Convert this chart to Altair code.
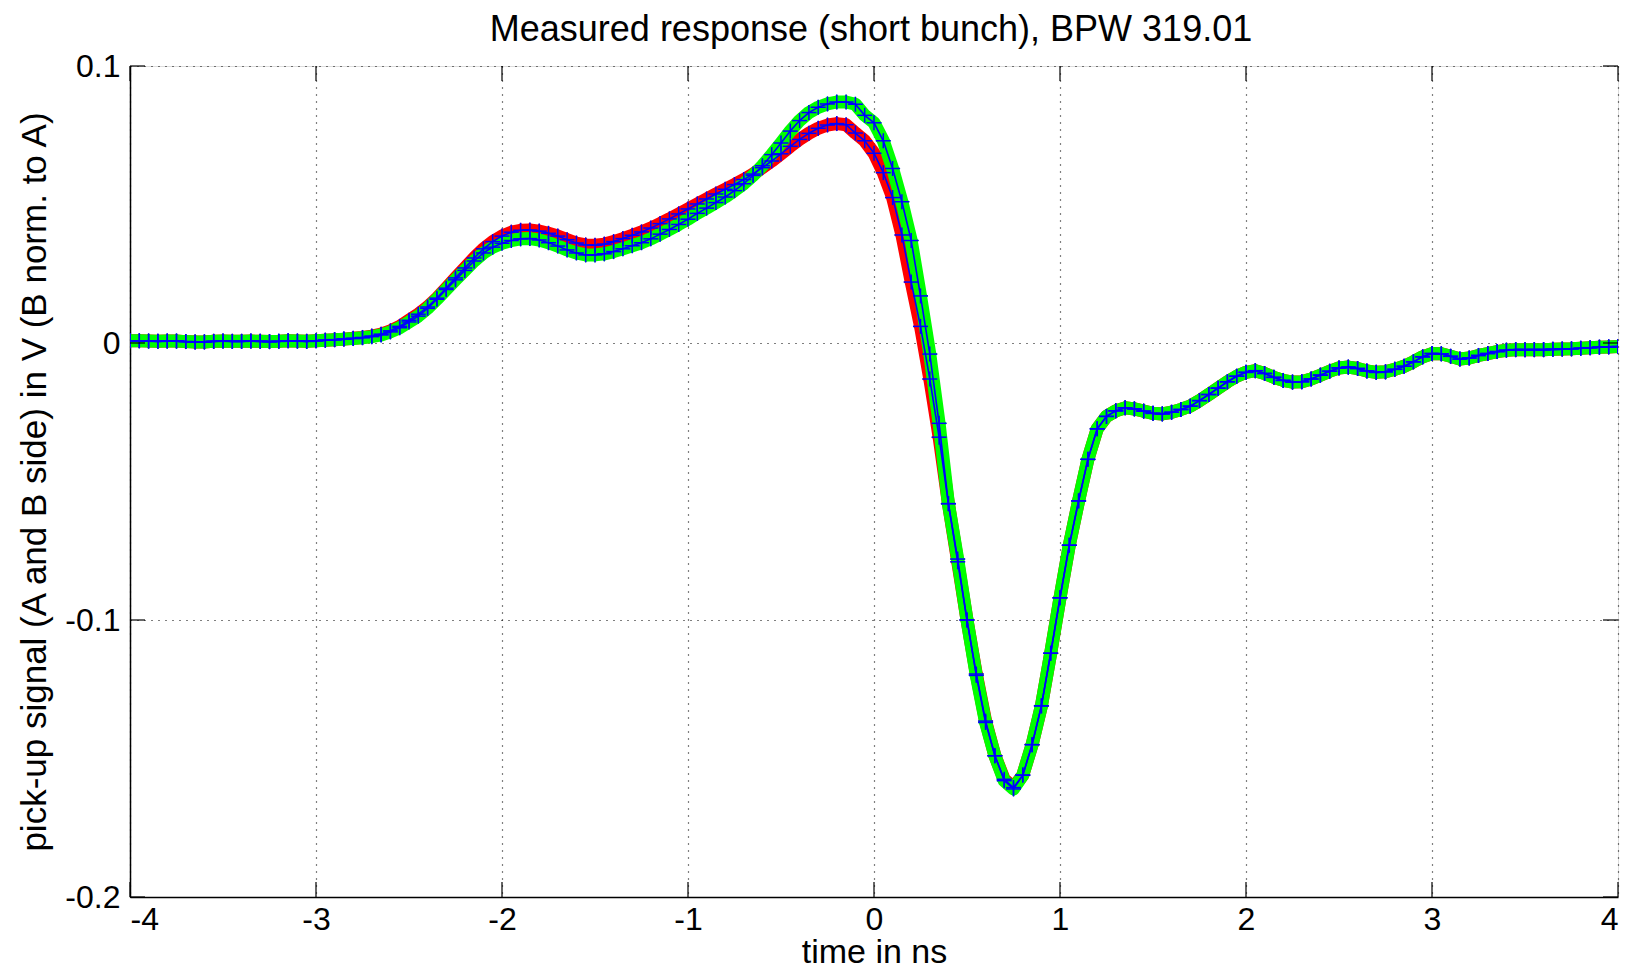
import altair as alt
import numpy as np
import pandas as pd

# time grid in ns (sampling of the traces)
t = np.round(np.arange(-4, 4.0001, 0.05), 2).tolist()

# mean response, A side (red data)
side_a = [
    0.0008, 0.0008, 0.0007, 0.0006, 0.0007, 0.0007, 0.0005, 0.0004, 0.0004, 0.0006,
    0.0007, 0.0006, 0.0006, 0.0007, 0.0006, 0.0005, 0.0006, 0.0008, 0.0007, 0.0006,
    0.0008, 0.0010, 0.0012, 0.0014, 0.0017, 0.0020, 0.0025, 0.0032, 0.0044, 0.0060,
    0.0082, 0.0104, 0.0130, 0.0162, 0.0198, 0.0235, 0.0271, 0.0307, 0.0340, 0.0366,
    0.0386, 0.0400, 0.0407, 0.0408, 0.0404, 0.0396, 0.0386, 0.0373, 0.0361, 0.0354,
    0.0353, 0.0357, 0.0366, 0.0377, 0.0389, 0.0401, 0.0415, 0.0431, 0.0448, 0.0466,
    0.0484, 0.0502, 0.0520, 0.0538, 0.0555, 0.0572, 0.0590, 0.0610, 0.0633, 0.0657,
    0.0683, 0.0710, 0.0735, 0.0757, 0.0775, 0.0787, 0.0792, 0.0788, 0.0758, 0.0730,
    0.0685, 0.0615, 0.0525, 0.0390, 0.0220, 0.0060, -0.0130, -0.0340, -0.0580, -0.0790,
    -0.1000, -0.1195, -0.1365, -0.1490, -0.1575, -0.1605, -0.1560, -0.1450, -0.1310, -0.1120,
    -0.0920, -0.0730, -0.0570, -0.0420, -0.0310, -0.0265, -0.0245, -0.0234, -0.0238, -0.0246,
    -0.0254, -0.0256, -0.0250, -0.0240, -0.0228, -0.0208, -0.0186, -0.0163, -0.0140, -0.0120,
    -0.0106, -0.0100, -0.0110, -0.0124, -0.0135, -0.0141, -0.0140, -0.0130, -0.0116, -0.0102,
    -0.0090, -0.0087, -0.0092, -0.0101, -0.0106, -0.0104, -0.0095, -0.0084, -0.0068, -0.0050,
    -0.0038, -0.0039, -0.0048, -0.0058, -0.0054, -0.0045, -0.0038, -0.0031, -0.0026, -0.0024,
    -0.0024, -0.0024, -0.0024, -0.0023, -0.0022, -0.0021, -0.0019, -0.0017, -0.0015, -0.0014,
    -0.0013,
]

# mean response, B side normalised to A (green data)
side_b = [
    0.0008, 0.0008, 0.0007, 0.0006, 0.0007, 0.0007, 0.0005, 0.0004, 0.0004, 0.0006,
    0.0007, 0.0006, 0.0006, 0.0007, 0.0006, 0.0005, 0.0006, 0.0008, 0.0007, 0.0006,
    0.0008, 0.0010, 0.0012, 0.0014, 0.0016, 0.0019, 0.0023, 0.0029, 0.0040, 0.0055,
    0.0076, 0.0097, 0.0125, 0.0158, 0.0193, 0.0228, 0.0262, 0.0296, 0.0325, 0.0346,
    0.0360, 0.0370, 0.0376, 0.0377, 0.0372, 0.0362, 0.0350, 0.0336, 0.0325, 0.0318,
    0.0318, 0.0322, 0.0330, 0.0340, 0.0351, 0.0362, 0.0376, 0.0393, 0.0410, 0.0428,
    0.0447, 0.0468, 0.0487, 0.0507, 0.0527, 0.0550, 0.0575, 0.0605, 0.0640, 0.0680,
    0.0722, 0.0765, 0.0803, 0.0832, 0.0851, 0.0863, 0.0870, 0.0870, 0.0862, 0.0822,
    0.0795, 0.0730, 0.0630, 0.0510, 0.0370, 0.0170, -0.0040, -0.0290, -0.0580, -0.0780,
    -0.1000, -0.1200, -0.1370, -0.1490, -0.1580, -0.1610, -0.1560, -0.1450, -0.1310, -0.1120,
    -0.0920, -0.0730, -0.0570, -0.0420, -0.0310, -0.0265, -0.0245, -0.0234, -0.0238, -0.0246,
    -0.0254, -0.0256, -0.0250, -0.0240, -0.0228, -0.0208, -0.0186, -0.0163, -0.0140, -0.0120,
    -0.0106, -0.0100, -0.0110, -0.0124, -0.0135, -0.0141, -0.0140, -0.0130, -0.0116, -0.0102,
    -0.0090, -0.0087, -0.0092, -0.0101, -0.0106, -0.0104, -0.0095, -0.0084, -0.0068, -0.0050,
    -0.0038, -0.0039, -0.0048, -0.0058, -0.0054, -0.0045, -0.0038, -0.0031, -0.0026, -0.0024,
    -0.0024, -0.0024, -0.0024, -0.0023, -0.0022, -0.0021, -0.0019, -0.0017, -0.0015, -0.0014,
    -0.0013,
]

x_ticks = [-4, -3, -2, -1, 0, 1, 2, 3, 4]
y_ticks = [-0.2, -0.1, 0, 0.1]

TITLE = "Measured response (short bunch), BPW 319.01"
X_TITLE = "time in ns"
Y_TITLE = "pick-up signal (A and B side) in V (B norm. to A)"

FONT = "Liberation Sans, Arial, sans-serif"
W, H = 1488, 831
TICK = 15

df = pd.DataFrame({"t": t, "A": side_a, "B": side_b})
df_xt = pd.DataFrame({"t": x_ticks})
df_yt = pd.DataFrame({"v": y_ticks})
df_title = pd.DataFrame({"label": [TITLE]})

xs = alt.Scale(domain=[-4, 4], nice=False, zero=False)
ys = alt.Scale(domain=[-0.2, 0.1], nice=False, zero=False)

common_axis = dict(
    grid=True, gridDash=[1, 6], gridColor="#000000", gridWidth=1.2, gridOpacity=1,
    ticks=False, tickSize=0, domainColor="#000000", domainWidth=1.5,
    labelFont=FONT, labelFontSize=32, labelColor="#000000",
    titleFont=FONT, titleFontWeight="normal", titleColor="#000000",
)

x_axis = alt.Axis(
    values=x_ticks, title=X_TITLE, labelPadding=7, titlePadding=0, titleFontSize=34,
    labelExpr="(datum.value < 0 ? '-' : '') + format(abs(datum.value), 'd')",
    **common_axis,
)
y_axis = alt.Axis(
    values=y_ticks, title=Y_TITLE, labelPadding=10, titlePadding=12, titleFontSize=35,
    labelExpr="datum.value == 0 ? '0' : (datum.value < 0 ? '-' : '') + format(abs(datum.value), '.1f')",
    **common_axis,
)

base = alt.Chart(df)


def X(field="t"):
    return alt.X(f"{field}:Q", scale=xs, axis=x_axis)


def Y(field):
    return alt.Y(f"{field}:Q", scale=ys, axis=y_axis)


def band(field, color):
    line = base.mark_line(color=color, strokeWidth=13, strokeCap="round",
                          strokeJoin="round", clip=True).encode(x=X(), y=Y(field))
    pts = base.mark_point(shape="diamond", filled=True, color=color, size=230,
                          opacity=1, clip=True).encode(x=X(), y=Y(field))
    return line + pts


def mean_line(field):
    line = base.mark_line(color="#0000FF", strokeWidth=1.6, clip=True).encode(
        x=X(), y=Y(field))
    hbar = base.mark_tick(orient="horizontal", color="#0000FF", size=15,
                          thickness=1.5, opacity=1, clip=True).encode(x=X(), y=Y(field))
    vbar = base.mark_tick(orient="vertical", color="#0000FF", size=15,
                          thickness=1.5, opacity=1, clip=True).encode(x=X(), y=Y(field))
    return line + hbar + vbar


ytick_l = alt.Chart(df_yt).mark_rule(color="black", strokeWidth=1.2).encode(
    y=Y("v"), x=alt.value(0), x2=alt.value(TICK))
ytick_r = alt.Chart(df_yt).mark_rule(color="black", strokeWidth=1.2).encode(
    y=Y("v"), x=alt.value(W - TICK), x2=alt.value(W))
xtick_b = alt.Chart(df_xt).mark_rule(color="black", strokeWidth=1.2).encode(
    x=X("t"), y=alt.value(H), y2=alt.value(H - TICK))
xtick_t = alt.Chart(df_xt).mark_rule(color="black", strokeWidth=1.2).encode(
    x=X("t"), y=alt.value(0), y2=alt.value(TICK))

title_text = alt.Chart(df_title).mark_text(
    font=FONT, fontSize=36, color="#000000", align="center", baseline="alphabetic"
).encode(text="label:N", x=alt.value(W / 2 - 3), y=alt.value(-25))

chart = alt.layer(
    band("A", "#FF0000"),
    band("B", "#00FF00"),
    mean_line("A"),
    mean_line("B"),
    ytick_l, ytick_r, xtick_b, xtick_t,
    title_text,
).properties(
    width=W, height=H,
    padding={"left": 122, "top": 58, "right": 5, "bottom": 72},
    autosize=alt.AutoSizeParams(type="none"),
).configure_view(stroke="#000000", strokeWidth=2).configure(background="white")

chart.save("out.html", embed_options={"renderer": "svg", "actions": False})
